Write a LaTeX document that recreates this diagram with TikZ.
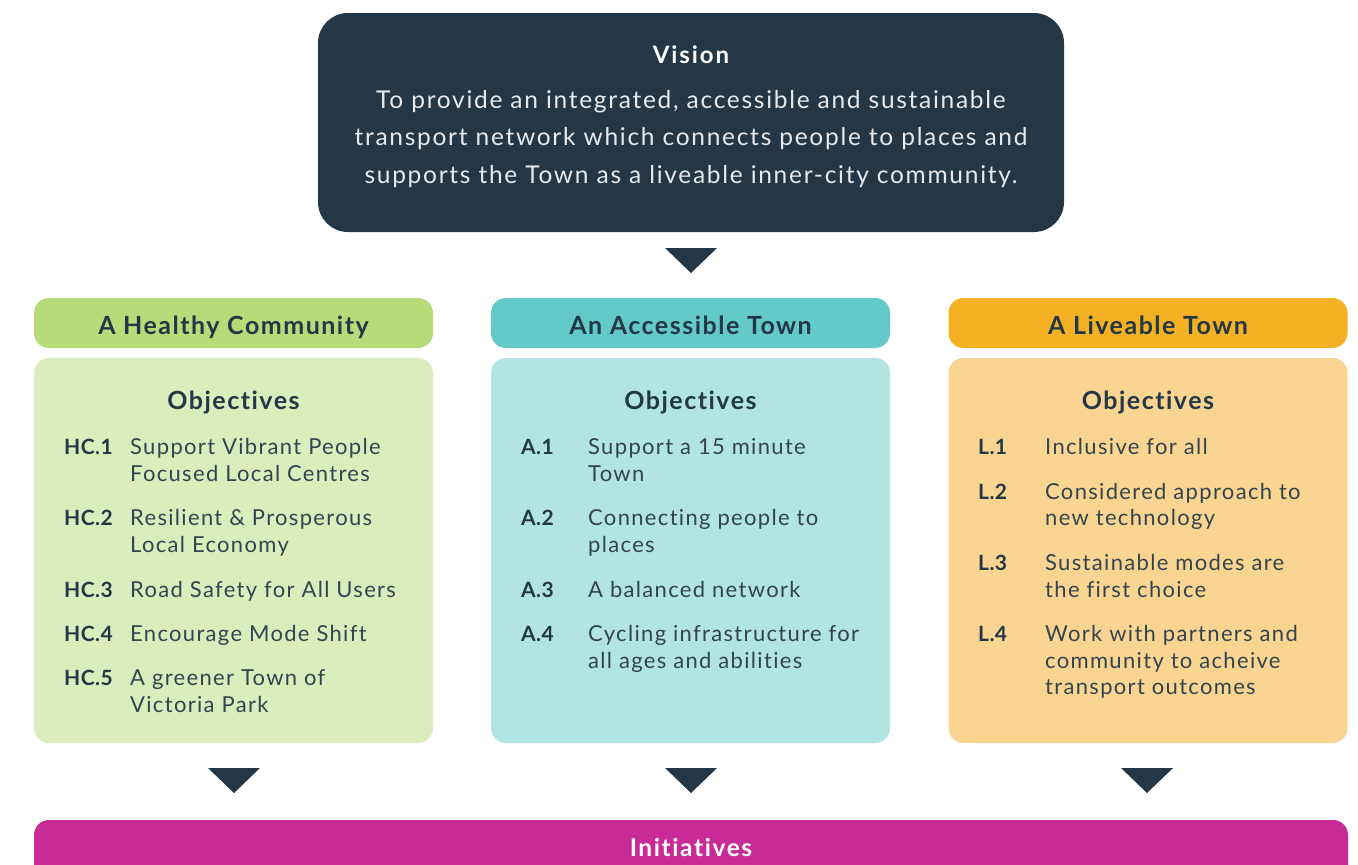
\documentclass[tikz,border=0pt]{standalone}
\usepackage{fontspec}
\setmainfont[Ligatures=NoCommon]{Lato}
\definecolor{navy}{HTML}{243746}
\definecolor{itemtxt}{HTML}{34444F}
\definecolor{visiontxt}{HTML}{E6EAED}
\definecolor{hgreen}{HTML}{B5DC79}
\definecolor{hteal}{HTML}{63C9C9}
\definecolor{horange}{HTML}{F3B123}
\definecolor{lgreen}{HTML}{DBEDBC}
\definecolor{lteal}{HTML}{B2E4E3}
\definecolor{lorange}{HTML}{F9D591}
\definecolor{magenta}{HTML}{C82A97}
\tikzset{
  box/.style={rounded corners=15, inner sep=0pt, draw=none},
  headbox/.style={box, minimum width=399, minimum height=50},
  objbox/.style={box, minimum width=399, minimum height=385},
  headtxt/.style={anchor=base, inner sep=0pt, text=navy, font=\bfseries\fontsize{25}{30}\selectfont\addfontfeature{LetterSpace=6}},
  objtitle/.style={anchor=base, inner sep=0pt, text=navy, font=\bfseries\fontsize{25}{30}\selectfont\addfontfeature{LetterSpace=6}},
  lbl/.style={anchor=base west, inner sep=0pt, text=navy, font=\bfseries\fontsize{21}{27}\selectfont\addfontfeature{LetterSpace=2}},
  itm/.style={anchor=base west, inner sep=0pt, text=itemtxt, font=\fontsize{22}{27}\selectfont\addfontfeature{LetterSpace=6}},
  vline/.style={anchor=base, inner sep=0pt, text=visiontxt, font=\fontsize{24.5}{37}\selectfont\addfontfeature{LetterSpace=7}},
  tri/.style={fill=navy}
}
\begin{document}
\begin{tikzpicture}[x=1pt,y=-1pt]
\useasboundingbox (0,0) rectangle (1358,865);
\clip (0,0) rectangle (1358,865);
% Vision
\node[box, rounded corners=30, fill=navy, minimum width=746, minimum height=219] (vision) at (691,122.5) {};
\node[anchor=base, inner sep=0pt, text=white, font=\bfseries\fontsize{24}{28}\selectfont\addfontfeature{LetterSpace=8}] (visiont) at (691,63) {Vision};
\node[vline] (v1) at (691,108) {To provide an integrated, accessible and sustainable};
\node[vline] (v2) at (691,145.5) {transport network which connects people to places and};
\node[vline] (v3) at (691,183) {supports the Town as a liveable inner-city community.};
\fill[tri] (665,248) -- (717,248) -- (691,273) -- cycle;
% Headers
\node[headbox, fill=hgreen] (h1) at (233.5,323) {};
\node[headbox, fill=hteal] (h2) at (690.5,323) {};
\node[headbox, fill=horange] (h3) at (1148,323) {};
\node[headtxt] (h1t) at (233.5,334) {A Healthy Community};
\node[headtxt] (h2t) at (690.5,334) {An Accessible Town};
\node[headtxt] (h3t) at (1148,334) {A Liveable Town};
% Objective boxes
\node[objbox, fill=lgreen] (o1) at (233.5,550.5) {};
\node[objbox, fill=lteal] (o2) at (690.5,550.5) {};
\node[objbox, fill=lorange] (o3) at (1148,550.5) {};
\node[objtitle] (o1t) at (233.5,409) {Objectives};
\node[objtitle] (o2t) at (690.5,409) {Objectives};
\node[objtitle] (o3t) at (1148,409) {Objectives};
% Column 1
\node[lbl] (hc1) at (64,454) {HC.1};
\node[itm] (hc1a) at (130,454) {Support Vibrant People};
\node[itm] (hc1b) at (130,481) {Focused Local Centres};
\node[lbl] (hc2) at (64,525) {HC.2};
\node[itm] (hc2a) at (130,525) {Resilient \& Prosperous};
\node[itm] (hc2b) at (130,552) {Local Economy};
\node[lbl] (hc3) at (64,597) {HC.3};
\node[itm] (hc3a) at (130,597) {Road Safety for All Users};
\node[lbl] (hc4) at (64,641) {HC.4};
\node[itm] (hc4a) at (130,641) {Encourage Mode Shift};
\node[lbl] (hc5) at (64,685) {HC.5};
\node[itm] (hc5a) at (130,685) {A greener Town of};
\node[itm] (hc5b) at (130,712) {Victoria Park};
% Column 2
\node[lbl] (a1) at (521,454) {A.1};
\node[itm] (a1a) at (588,454) {Support a 15 minute};
\node[itm] (a1b) at (588,481) {Town};
\node[lbl] (a2) at (521,525) {A.2};
\node[itm] (a2a) at (588,525) {Connecting people to};
\node[itm] (a2b) at (588,552) {places};
\node[lbl] (a3) at (521,597) {A.3};
\node[itm] (a3a) at (588,597) {A balanced network};
\node[lbl] (a4) at (521,641) {A.4};
\node[itm] (a4a) at (588,641) {Cycling infrastructure for};
\node[itm] (a4b) at (588,668) {all ages and abilities};
% Column 3
\node[lbl] (l1) at (978,454) {L.1};
\node[itm] (l1a) at (1045,454) {Inclusive for all};
\node[lbl] (l2) at (978,499) {L.2};
\node[itm] (l2a) at (1045,499) {Considered approach to};
\node[itm] (l2b) at (1045,525) {new technology};
\node[lbl] (l3) at (978,570) {L.3};
\node[itm] (l3a) at (1045,570) {Sustainable modes are};
\node[itm] (l3b) at (1045,597) {the first choice};
\node[lbl] (l4) at (978,641) {L.4};
\node[itm] (l4a) at (1045,641) {Work with partners and};
\node[itm] (l4b) at (1045,668) {community to acheive};
\node[itm] (l4c) at (1045,694) {transport outcomes};
% Down arrows
\fill[tri] (208,768) -- (260,768) -- (234,793) -- cycle;
\fill[tri] (665,768) -- (717,768) -- (691,793) -- cycle;
\fill[tri] (1121,768) -- (1173,768) -- (1147,793) -- cycle;
% Initiatives
\node[box, fill=magenta, minimum width=1314, minimum height=70] (init) at (691,855) {};
\node[anchor=base, inner sep=0pt, text=white, font=\bfseries\fontsize{24.5}{29}\selectfont\addfontfeature{LetterSpace=6.5}] (initt) at (691,856) {Initiatives};
\end{tikzpicture}
\end{document}
